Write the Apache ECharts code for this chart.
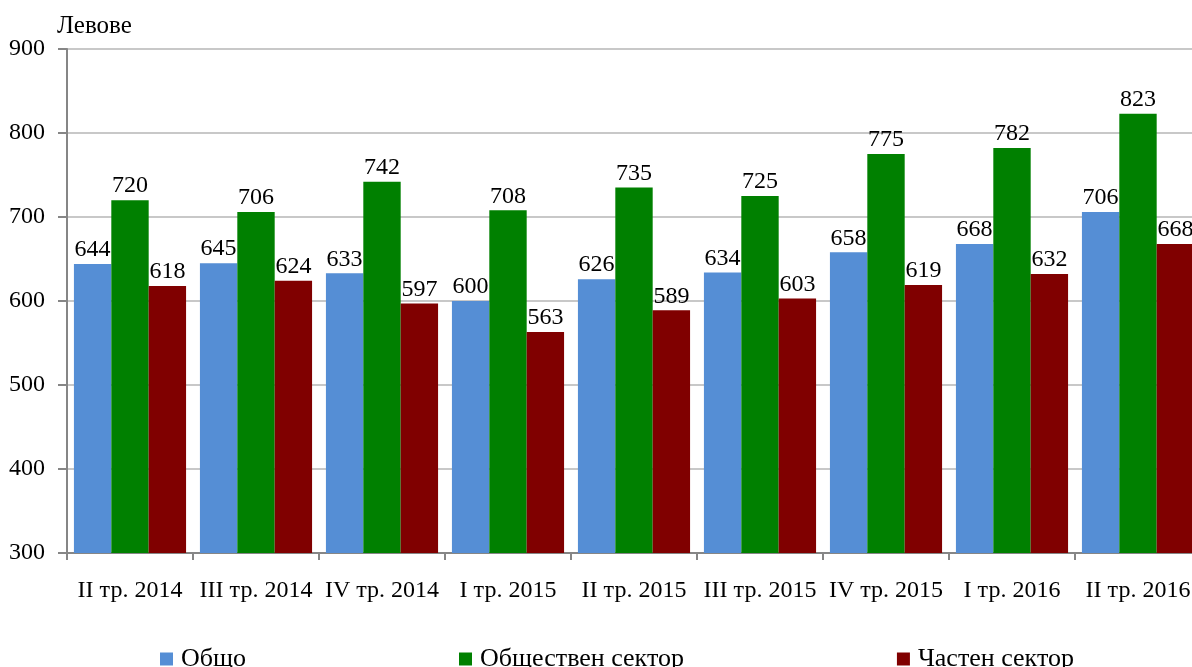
<!DOCTYPE html>
<html>
<head>
<meta charset="utf-8">
<script src="https://cdn.jsdelivr.net/npm/echarts@6/dist/echarts.min.js"></script>
<style>html,body{margin:0;padding:0;background:#fff;overflow:hidden;width:1192px;height:667px}#c{width:1201px;height:667px}</style>
</head>
<body>
<div id="c"></div>
<script>
const categories = ['II тр. 2014','III тр. 2014','IV тр. 2014','I тр. 2015','II тр. 2015','III тр. 2015','IV тр. 2015','I тр. 2016','II тр. 2016'];
const total = [644,645,633,600,626,634,658,668,706];
const publicSector = [720,706,742,708,735,725,775,782,823];
const privateSector = [618,624,597,563,589,603,619,632,668];
const seriesNames = ['Общо','Обществен сектор','Частен сектор'];
const yTicks = {min:300, max:900, interval:100};
const unitLabel = 'Левове';

const FONT = '"Liberation Serif", "Times New Roman", serif';
const chart = echarts.init(document.getElementById('c'));
const lbl = {show:true, position:'top', distance:2, color:'#000', fontSize:24, fontFamily:FONT};
chart.setOption({
  animation:false,
  title:{text:unitLabel, left:57, top:14, padding:0, textStyle:{fontSize:25, fontWeight:'normal', fontFamily:FONT, color:'#000'}},
  grid:{left:67, right:0, top:49, bottom:114, containLabel:false},
  legend:{bottom:-5, left:160, padding:0, itemGap:213, itemWidth:13, itemHeight:13, icon:'rect',
    textStyle:{fontSize:26, fontFamily:FONT, color:'#000', padding:[0,0,0,3]}, data:seriesNames},
  xAxis:{type:'category', data:categories,
    axisLine:{lineStyle:{color:'#868686', width:2}},
    axisTick:{show:true, length:7, lineStyle:{color:'#868686', width:2}},
    axisLabel:{fontSize:24, fontFamily:FONT, color:'#000', margin:26, interval:0}},
  yAxis:{type:'value', min:yTicks.min, max:yTicks.max, interval:yTicks.interval,
    axisLine:{show:true, lineStyle:{color:'#868686', width:2}},
    axisTick:{show:true, length:9, lineStyle:{color:'#868686', width:2}},
    splitLine:{lineStyle:{color:'#c8c8c8', width:2}},
    axisLabel:{fontSize:24, fontFamily:FONT, color:'#000', margin:22}},
  series:[
    {name:seriesNames[0], type:'bar', data:total, itemStyle:{color:'#558ED5'}, barGap:'0%', barCategoryGap:'11%', label:lbl},
    {name:seriesNames[1], type:'bar', data:publicSector, itemStyle:{color:'#008000'}, label:lbl},
    {name:seriesNames[2], type:'bar', data:privateSector, itemStyle:{color:'#800000'}, label:lbl}
  ]
});
</script>
</body>
</html>
